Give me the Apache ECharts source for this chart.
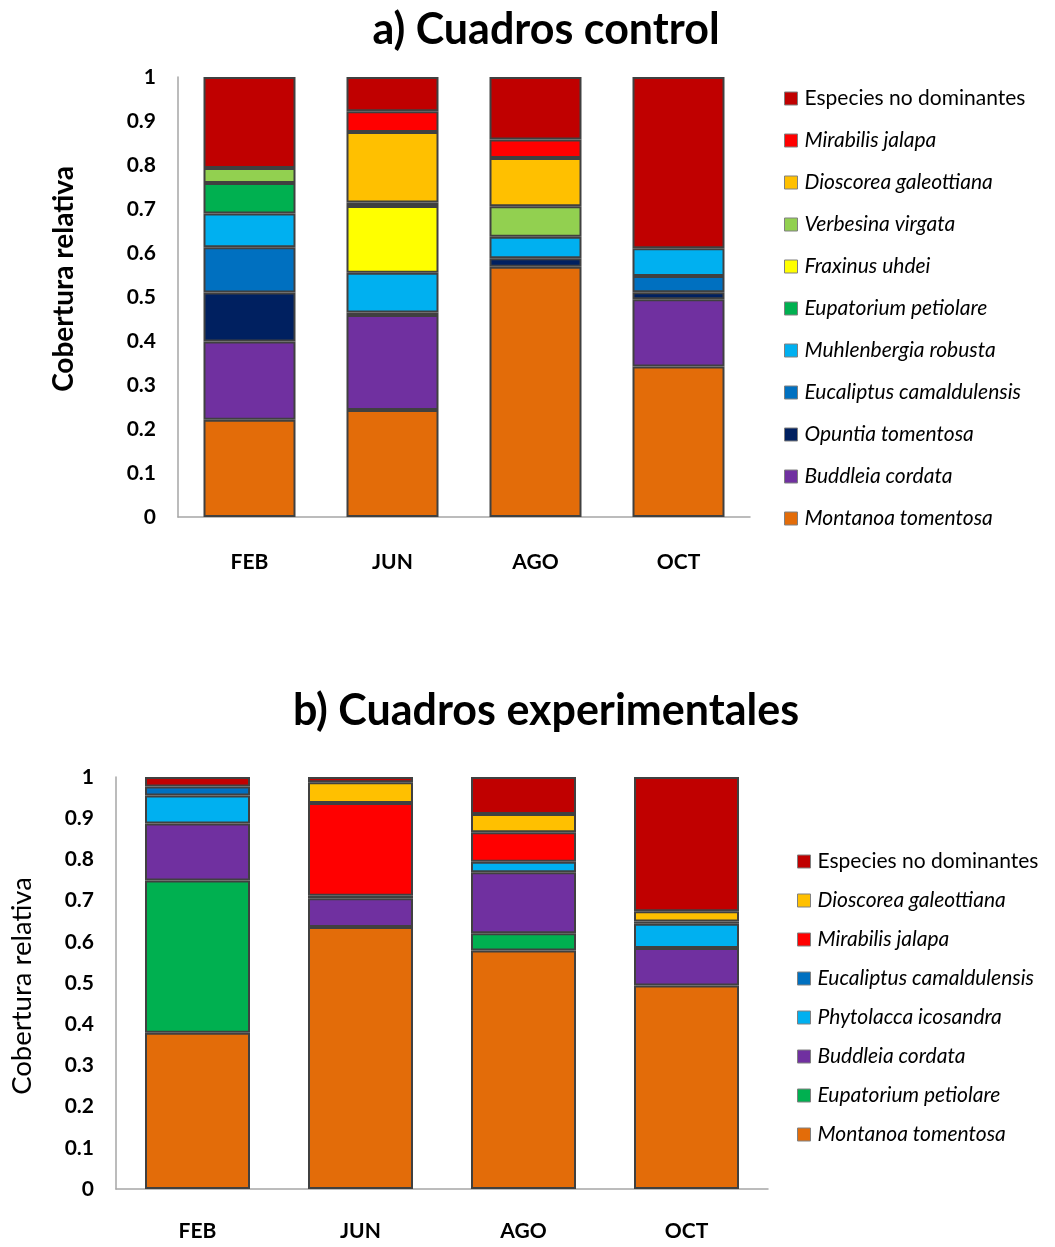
<!DOCTYPE html>
<html>
<head>
<meta charset="utf-8">
<script src="https://cdn.jsdelivr.net/npm/echarts@6/dist/echarts.min.js"></script>
<style>
  html, body { margin: 0; padding: 0; background: #fff; }
  #chart { width: 1055px; height: 1247px; }
</style>
</head>
<body>
<div id="chart"></div>
<script>
// Months sampled
const months = ['FEB', 'JUN', 'AGO', 'OCT'];
const yTicks = ['0', '0.1', '0.2', '0.3', '0.4', '0.5', '0.6', '0.7', '0.8', '0.9', '1'];

// a) Control plots: relative cover per species (stacked bottom → top)
const ctrlMontanoa     = [0.221, 0.243, 0.569, 0.342];
const ctrlBuddleia     = [0.178, 0.216, 0.000, 0.153];
const ctrlOpuntia      = [0.111, 0.006, 0.019, 0.016];
const ctrlEucaliptus   = [0.103, 0.000, 0.000, 0.037];
const ctrlMuhlenbergia = [0.077, 0.090, 0.049, 0.063];
const ctrlEupatorium   = [0.069, 0.000, 0.000, 0.000];
const ctrlFraxinus     = [0.000, 0.152, 0.000, 0.000];
const ctrlVerbesina    = [0.034, 0.008, 0.069, 0.000];
const ctrlDioscorea    = [0.000, 0.160, 0.110, 0.000];
const ctrlMirabilis    = [0.000, 0.047, 0.042, 0.000];
const ctrlOtras        = [0.207, 0.078, 0.142, 0.389];

// b) Experimental plots
const expMontanoa    = [0.379, 0.636, 0.579, 0.494];
const expEupatorium  = [0.370, 0.000, 0.042, 0.000];
const expBuddleia    = [0.138, 0.070, 0.148, 0.091];
const expPhytolacca  = [0.068, 0.006, 0.025, 0.059];
const expEucaliptus  = [0.022, 0.000, 0.000, 0.005];
const expMirabilis   = [0.000, 0.225, 0.072, 0.000];
const expDioscorea   = [0.000, 0.050, 0.044, 0.025];
const expOtras       = [0.023, 0.013, 0.090, 0.326];

const FONT = 'Lato, "Open Sans", sans-serif';
const EDGE = '#404040';

const colors = {
  'Especies no dominantes': '#C00000',
  'Mirabilis jalapa': '#FF0000',
  'Dioscorea galeottiana': '#FFC000',
  'Verbesina virgata': '#92D050',
  'Fraxinus uhdei': '#FFFF00',
  'Eupatorium petiolare': '#00B050',
  'Muhlenbergia robusta': '#00B0F0',
  'Phytolacca icosandra': '#00B0F0',
  'Eucaliptus camaldulensis': '#0070C0',
  'Opuntia tomentosa': '#002060',
  'Buddleia cordata': '#7030A0',
  'Montanoa tomentosa': '#E36C09'
};

const ctrlStack = [
  ['Montanoa tomentosa', ctrlMontanoa],
  ['Buddleia cordata', ctrlBuddleia],
  ['Opuntia tomentosa', ctrlOpuntia],
  ['Eucaliptus camaldulensis', ctrlEucaliptus],
  ['Muhlenbergia robusta', ctrlMuhlenbergia],
  ['Eupatorium petiolare', ctrlEupatorium],
  ['Fraxinus uhdei', ctrlFraxinus],
  ['Verbesina virgata', ctrlVerbesina],
  ['Dioscorea galeottiana', ctrlDioscorea],
  ['Mirabilis jalapa', ctrlMirabilis],
  ['Especies no dominantes', ctrlOtras]
];
const expStack = [
  ['Montanoa tomentosa', expMontanoa],
  ['Eupatorium petiolare', expEupatorium],
  ['Buddleia cordata', expBuddleia],
  ['Phytolacca icosandra', expPhytolacca],
  ['Eucaliptus camaldulensis', expEucaliptus],
  ['Mirabilis jalapa', expMirabilis],
  ['Dioscorea galeottiana', expDioscorea],
  ['Especies no dominantes', expOtras]
];

function barSeries(stack, idx, key, width) {
  return stack.map(([name, vals]) => ({
    name: name,
    type: 'bar',
    stack: key,
    xAxisIndex: idx,
    yAxisIndex: idx,
    barWidth: width,
    data: vals.map(v => (v > 0 ? v : '-')),
    itemStyle: { color: colors[name], borderColor: EDGE, borderWidth: 2 },
    emphasis: { disabled: true },
    animation: false
  }));
}

function legendItems(stack) {
  return stack.slice().reverse().map(([name]) => ({
    name: name,
    itemStyle: { color: colors[name], borderColor: '#808080', borderWidth: 1 },
    textStyle: { fontStyle: name === 'Especies no dominantes' ? 'normal' : 'italic' }
  }));
}

function yAxis(idx) {
  return {
    type: 'value', gridIndex: idx, min: 0, max: 1, interval: 0.1,
    axisLine: { show: true, lineStyle: { color: '#A6A6A6', width: 1.5 } },
    axisTick: { show: false },
    splitLine: { show: false },
    axisLabel: {
      fontFamily: FONT, fontSize: 21, fontWeight: 'bold', color: '#000', margin: 22,
      formatter: v => yTicks[Math.round(v * 10)]
    }
  };
}

function xAxis(idx, margin) {
  return {
    type: 'category', gridIndex: idx, data: months,
    axisLine: { show: true, lineStyle: { color: '#A6A6A6', width: 1.5 } },
    axisTick: { show: false },
    axisLabel: { fontFamily: FONT, fontSize: 21, fontWeight: 'bold', color: '#000', margin: margin }
  };
}

// rotated axis titles
function axisTitle(x, y, bold, size) {
  return {
    type: 'text', x: x, y: y, rotation: Math.PI / 2,
    style: {
      text: 'Cobertura relativa', fill: '#000',
      font: (bold ? 'bold ' : '') + size + 'px ' + FONT,
      align: 'center', verticalAlign: 'middle'
    }
  };
}

const legendText = { fontFamily: FONT, fontSize: 21, color: '#000', lineHeight: 21, padding: [0, 0, 0, 2] };

const chart = echarts.init(document.getElementById('chart'), null, { renderer: 'canvas' });
chart.setOption({
  backgroundColor: '#fff',
  animation: false,
  title: [
    { text: 'a) Cuadros control', left: 541, top: 4, textAlign: 'center',
      textStyle: { fontFamily: FONT, fontSize: 43, fontWeight: 'bold', color: '#000' } },
    { text: 'b) Cuadros experimentales', left: 541, top: 685, textAlign: 'center',
      textStyle: { fontFamily: FONT, fontSize: 43, fontWeight: 'bold', color: '#000' } }
  ],
  graphic: [axisTitle(64, 279, true, 28), axisTitle(22, 986, false, 27.5)],
  grid: [
    { left: 178, top: 77, width: 572, height: 440 },
    { left: 116, top: 777, width: 652, height: 412 }
  ],
  xAxis: [xAxis(0, 35), xAxis(1, 32)],
  yAxis: [yAxis(0), yAxis(1)],
  legend: [
    {
      orient: 'vertical', left: 784, top: 88, padding: 0, itemWidth: 13, itemHeight: 13, itemGap: 21,
      icon: 'rect', selectedMode: false, textStyle: legendText,
      data: legendItems(ctrlStack)
    },
    {
      orient: 'vertical', left: 797, top: 851, padding: 0, itemWidth: 13, itemHeight: 13, itemGap: 18,
      icon: 'rect', selectedMode: false, textStyle: legendText,
      data: legendItems(expStack)
    }
  ],
  series: barSeries(ctrlStack, 0, 'ctrl', 92).concat(barSeries(expStack, 1, 'exp', 105))
});
</script>
</body>
</html>
